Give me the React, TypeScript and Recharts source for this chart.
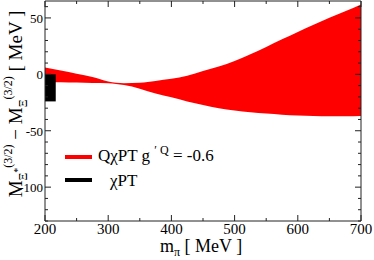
import { ComposedChart, Area, XAxis, YAxis, ReferenceArea, Legend } from 'recharts'

const W = 374
const H = 260
const margin = { top: 1, right: 13, bottom: 0, left: 0 }
const plotTop = margin.top
const plotRight = W - margin.right

// pion mass grid [MeV]
const mPi = [200, 225, 250, 275, 300, 325, 350, 375, 400, 425, 450, 475, 500, 525, 550, 575, 600, 625, 650, 675, 700]
// QχPT band, g'Q = -0.6 (lower / upper edge, MeV)
const bandLow = [-7, -7, -7.3, -7.6, -7.8, -9.5, -12.7, -17, -20.3, -24, -27.2, -30, -32, -33.7, -34.8, -35.8, -36.5, -37, -37.2, -37.2, -37]
const bandHigh = [6, 3.3, 0.6, -2.3, -6.3, -7.8, -7.5, -5.8, -4, -1.3, 3, 7, 11.9, 17.8, 24.3, 31, 37.6, 44, 50.2, 56, 62]
// χPT box
const chiptX = [200, 217]
const chiptY = [-24, 0]

const xTicks = [200, 250, 300, 350, 400, 450, 500, 550, 600, 650, 700]
const xLabels = [200, 300, 400, 500, 600, 700]
const yTicks = [-130, -120, -110, -100, -90, -80, -70, -60, -50, -40, -30, -20, -10, 0, 10, 20, 30, 40, 50, 60]
const yLabels = [-100, -50, 0, 50]

const legendItems = [
  { key: 'qchpt', color: '#ff0000' },
  { key: 'chpt', color: '#000000' },
]

const data = mPi.map((m, i) => ({ m, band: [bandLow[i], bandHigh[i]] }))

const font = "'Liberation Serif', 'Times New Roman', Times, 'DejaVu Serif', serif"

function XTick({ x, y, payload }: any) {
  const major = xLabels.includes(payload.value)
  const len = major ? 6 : 3
  return (
    <g>
      <line x1={x} x2={x} y1={y} y2={y - len} stroke="#222" />
      <line x1={x} x2={x} y1={plotTop} y2={plotTop + len} stroke="#222" />
      {major && (
        <text x={x} y={y + 13} textAnchor="middle" style={{ fontFamily: font, fontSize: 15 }} fill="#000">
          {payload.value}
        </text>
      )}
    </g>
  )
}

function YTick({ x, y, payload }: any) {
  const major = yLabels.includes(payload.value)
  const len = major ? 6 : 3
  return (
    <g>
      <line x1={x} x2={x + len} y1={y} y2={y} stroke="#222" />
      <line x1={plotRight} x2={plotRight - len} y1={y} y2={y} stroke="#222" />
      {major && (
        <text x={x - 2} y={y + 5} textAnchor="end" style={{ fontFamily: font, fontSize: 13 }} fill="#000">
          {payload.value}
        </text>
      )}
    </g>
  )
}

function XTitle() {
  return (
    <text x={160} y={252} style={{ fontFamily: font, fontSize: 18 }} fill="#000">
      m<tspan fontSize={12} dy={4}>π</tspan>
      <tspan dy={-4}> [ MeV ]</tspan>
    </text>
  )
}

function YTitle() {
  return (
    <text transform="translate(22,104) rotate(-90)" textAnchor="middle" style={{ fontFamily: font, fontSize: 19 }} fill="#000">
      M<tspan fontSize={12} dy={5}>Ξ</tspan>
      <tspan fontSize={10} dy={-6}>*</tspan>
      <tspan fontSize={12} dy={-9}>(3/2)</tspan>
      <tspan dy={10}> − M</tspan>
      <tspan fontSize={12} dy={5}>Ξ</tspan>
      <tspan fontSize={12} dy={-15}>(3/2)</tspan>
      <tspan dy={10}> [ MeV ]</tspan>
    </text>
  )
}

function LegendBox() {
  return (
    <div style={{ fontFamily: font, fontSize: 17, color: '#000', lineHeight: '23.6px' }}>
      {legendItems.map((item) => (
        <div key={item.key} style={{ display: 'flex', alignItems: 'center', height: 23.6, whiteSpace: 'nowrap' }}>
          <span style={{ display: 'inline-block', width: 27, height: 4, background: item.color, marginRight: item.key === 'chpt' ? 18 : 6 }} />
          {item.key === 'qchpt' ? (
            <span>
              QχPT g <span style={{ fontSize: 12, position: 'relative', top: -7 }}>′ Q</span> = -0.6
            </span>
          ) : (
            <span>χPT</span>
          )}
        </div>
      ))}
    </div>
  )
}

export default function App() {
  return (
    <div style={{ position: 'absolute', left: 0, top: 0, width: W, height: H, background: '#fff', fontFamily: font }}>
      <ComposedChart width={W} height={H} data={data} margin={margin}>
        <XAxis
          dataKey="m"
          type="number"
          domain={[200, 700]}
          ticks={xTicks}
          interval={0}
          allowDataOverflow
          height={39}
          tickSize={0}
          tickMargin={0}
          axisLine={false}
          tick={<XTick />}
          label={<XTitle />}
        />
        <YAxis
          type="number"
          domain={[-130, 65]}
          ticks={yTicks}
          interval={0}
          allowDataOverflow
          width={45}
          tickSize={0}
          tickMargin={0}
          axisLine={false}
          tick={<YTick />}
          label={<YTitle />}
        />
        <Area
          type="monotone"
          dataKey="band"
          fill="#ff0000"
          fillOpacity={1}
          stroke="none"
          isAnimationActive={false}
        />
        <ReferenceArea x1={chiptX[0]} x2={chiptX[1]} y1={chiptY[0]} y2={chiptY[1]} fill="#000" fillOpacity={1} stroke="none" />
        <ReferenceArea x1={200} x2={700} y1={-130} y2={65} fill="none" stroke="#222" strokeWidth={1} />
        <Legend
          layout="vertical"
          align="center"
          verticalAlign="middle"
          content={<LegendBox />}
          wrapperStyle={{ position: 'absolute', left: 65, top: 145, width: 'auto' }}
        />
      </ComposedChart>
    </div>
  )
}
